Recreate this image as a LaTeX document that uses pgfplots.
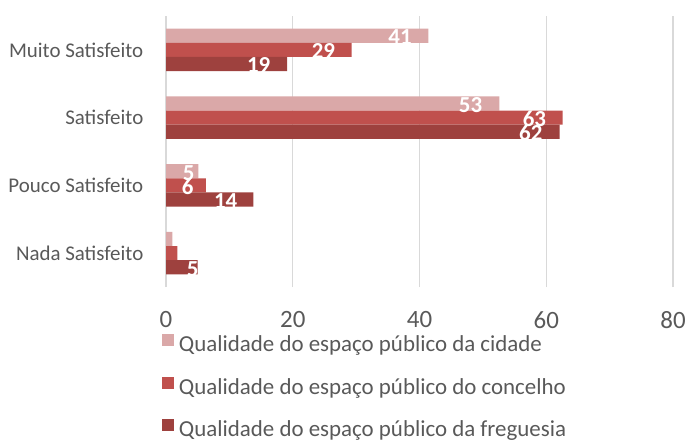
\documentclass[border=0pt]{standalone}
\usepackage{fontspec}
\setmainfont{Carlito}
\usepackage{pgfplots}
\pgfplotsset{compat=1.18}
\definecolor{c1}{HTML}{DAA8A8}
\definecolor{c2}{HTML}{C0504D}
\definecolor{c3}{HTML}{9E413E}
\definecolor{txt}{HTML}{595959}
\definecolor{gridc}{HTML}{D9D9D9}
\begin{document}
\begin{tikzpicture}
\path[use as bounding box] (0,0) rectangle (690bp,440bp);
\begin{axis}[
 at={(166bp,153bp)}, anchor=south west,
 width=507bp, height=271bp, scale only axis,
 xmin=0, xmax=80, ymin=-0.5, ymax=3.5,
 xtick={0,20,40,60,80}, ytick={0,1,2,3},
 yticklabels={Nada Satisfeito, Pouco Satisfeito, Satisfeito, Muito Satisfeito},
 axis line style={draw=none},
 major tick length=0pt,
 xmajorgrids, grid style={gridc, line width=1.3bp},
 xticklabel style={font=\fontsize{25}{26}\selectfont, text=txt, anchor=north, inner sep=0pt, yshift=-24bp},
 yticklabel style={font=\fontsize{21}{24}\selectfont, text=txt, anchor=east, inner sep=0pt, xshift=-22.5bp},
 /pgf/number format/assume math mode=true,
 xbar, bar width=0.208,
 every node near coord/.append style={inner sep=0pt, text=white, font=\bfseries\fontsize{23}{23}\selectfont, yshift=-1.5bp},
 legend cell align=left,
 legend style={at={(axis description cs:-0.0079,-0.1735)}, anchor=north west, draw=none, fill=none, inner sep=0pt, outer sep=0pt, row sep=20.2bp, font=\fontsize{23}{25}\selectfont, text=txt, nodes={inner sep=0pt, text height=16bp, text depth=5bp}, /tikz/every odd column/.append style={column sep=5bp}},
 legend image code/.code={\fill[#1,draw=none] (0bp,0bp) rectangle (12bp,12bp);},
]
\addplot[xbar, bar shift=0.208, fill=c1, draw=none, nodes near coords, point meta=explicit symbolic,
  visualization depends on={value \thisrow{dx} \as \dx},
  every node near coord/.append style={anchor=east, xshift=\dx bp}]
  table[x=v, y=c, meta=lab] {
c v lab dx
3 41.4 41 -16.5
2 52.6 53 -17
1 5.1 5 -3.6
0 1.0 {} 0
};
\addlegendentry{Qualidade do espaço público da cidade}
\addplot[xbar, bar shift=0, fill=c2, draw=none, nodes near coords, point meta=explicit symbolic,
  visualization depends on={value \thisrow{dx} \as \dx},
  every node near coord/.append style={anchor=east, xshift=\dx bp}]
  table[x=v, y=c, meta=lab] {
c v lab dx
3 29.3 29 -16.5
2 62.6 63 -16.5
1 6.3 6 -12.3
0 1.8 {} 0
};
\addlegendentry{Qualidade do espaço público do concelho}
\addplot[xbar, bar shift=-0.208, fill=c3, draw=none, nodes near coords, point meta=explicit symbolic,
  visualization depends on={value \thisrow{dx} \as \dx},
  every node near coord/.append style={anchor=east, xshift=\dx bp}]
  table[x=v, y=c, meta=lab] {
c v lab dx
3 19.1 19 -16.5
2 62.1 62 -17
1 13.8 14 -16
0 5.0 5 1
};
\addlegendentry{Qualidade do espaço público da freguesia}
\end{axis}
\end{tikzpicture}
\end{document}
